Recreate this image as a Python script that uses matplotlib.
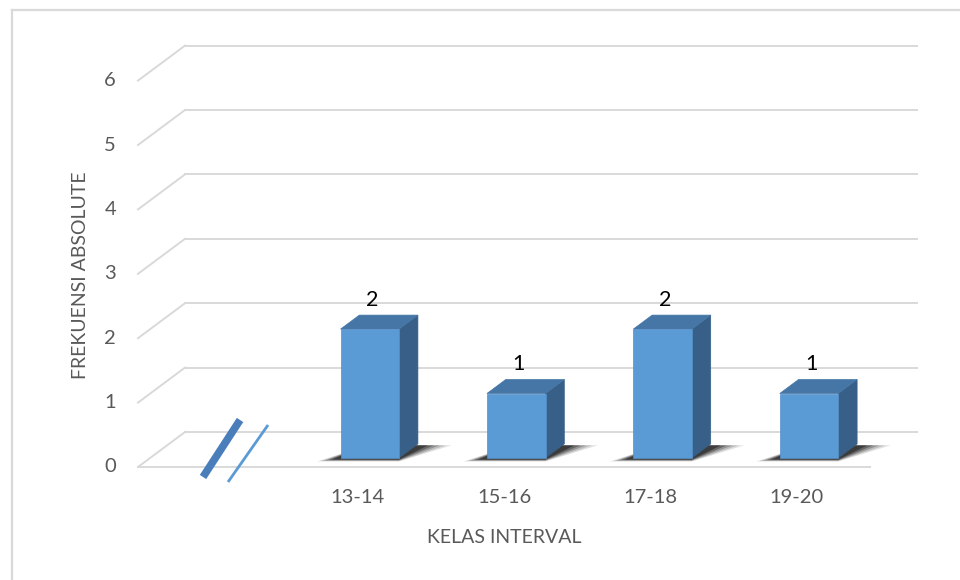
import matplotlib
matplotlib.use("Agg")
import matplotlib.pyplot as plt
from matplotlib.patches import Polygon

plt.rcParams['font.family'] = ['Lato', 'DejaVu Sans']

# ---- data ----
categories = ["", "13-14", "15-16", "17-18", "19-20"]
values = [None, 2, 1, 2, 1]
y_ticks = [0, 1, 2, 3, 4, 5, 6]
y_title = "FREKUENSI ABSOLUTE"
x_title = "KELAS INTERVAL"

# ---- style / geometry ----
W, H = 960, 580
px_cat = 146.4          # pixels per category
px_val = 64.4           # pixels per value unit
x0_px, y0_px = 138, 467  # front-left corner of floor (pixels)
DX, DY = 47 / px_cat, 35 / px_val   # full depth offset in data units
d_front, d_back = 0.26, 0.66        # bar depth range (fraction of full depth)
bar_w = 0.40

c_front = "#5B9BD5"
c_top = "#4676A6"
c_side = "#375F87"
grid_c = "#D9D9D9"
txt_c = "#595959"

fig = plt.figure(figsize=(W / 100, H / 100), dpi=100)
ax = fig.add_axes([0, 0, 1, 1])
ax.set_xlim((0 - x0_px) / px_cat - 0.5, (W - x0_px) / px_cat - 0.5)
ax.set_ylim((y0_px - H) / px_val, y0_px / px_val)
ax.axis("off")

n = len(categories)
xl, xr = -0.5, n - 0.5

# chart border (left and top)
fig.add_artist(plt.Line2D([11.5 / W, 11.5 / W], [0, 1 - 10 / H], color=grid_c, lw=1.6))
fig.add_artist(plt.Line2D([11.5 / W, 1], [1 - 10 / H, 1 - 10 / H], color=grid_c, lw=1.6))

# gridlines: back wall + left-side diagonals
for v in y_ticks:
    ax.plot([xl + DX, xr + DX], [v + DY, v + DY], color=grid_c, lw=1.4, zorder=1)
    ax.plot([xl, xl + DX], [v, v + DY], color=grid_c, lw=1.4, zorder=1)
    ax.text(xl - 0.19, v, str(v), ha="center", va="center", color=txt_c, fontsize=14.5)
# floor front edge
ax.plot([xl, xr], [0, 0], color=grid_c, lw=1.4, zorder=1)

# axis break marks on the empty first category
ax.plot([-0.056, 0.197], [-0.155, 0.73], color="#4A7EBB", lw=5.5,
        solid_capstyle="butt", zorder=3)
ax.plot([0.115, 0.388], [-0.233, 0.652], color="#5B9BD5", lw=2,
        solid_capstyle="butt", zorder=3)

# bars
for i, (cat, v) in enumerate(zip(categories, values)):
    if v is None:
        continue
    xa = i - bar_w / 2 + d_front * DX
    xb = i + bar_w / 2 + d_front * DX
    yb = d_front * DY
    ddx = (d_back - d_front) * DX
    ddy = (d_back - d_front) * DY
    # soft shadow on floor
    for k, a in enumerate([0.12, 0.16, 0.22, 0.30, 0.40]):
        g = 0.12 - k * 0.025
        sx = [xa - 0.16 + k * 0.025, xb + 0.0, xb + ddx + 0.23 - k * 0.04, xa + ddx + 0.05]
        sy = [yb - 0.02 - g * 0.3, yb - 0.02 - g * 0.3, yb + ddy * 0.9, yb + ddy * 0.9]
        ax.add_patch(Polygon(list(zip(sx, sy)), closed=True, color="black",
                             alpha=a, lw=0, zorder=2))
    # side face
    ax.add_patch(Polygon([(xb, yb), (xb + ddx, yb + ddy), (xb + ddx, v + yb + ddy), (xb, v + yb)],
                         closed=True, facecolor=c_side, edgecolor=c_side, lw=0.5, zorder=4))
    # top face
    ax.add_patch(Polygon([(xa, v + yb), (xb, v + yb), (xb + ddx, v + yb + ddy), (xa + ddx, v + yb + ddy)],
                         closed=True, facecolor=c_top, edgecolor=c_top, lw=0.5, zorder=4))
    # front face
    ax.add_patch(Polygon([(xa, yb), (xb, yb), (xb, v + yb), (xa, v + yb)],
                         closed=True, facecolor=c_front, edgecolor="#5590C8", lw=0.5, zorder=5))
    # data label
    ax.text(i + 0.1, v + 0.6, str(v), ha="center", va="center", color="black", fontsize=15.5, zorder=6)

# category labels
for i, cat in enumerate(categories):
    ax.text(i, -0.47, cat, ha="center", va="center", color=txt_c, fontsize=14.5)

# titles
ax.text((n - 1) / 2, -1.09, x_title, ha="center", va="center", color=txt_c, fontsize=14)
ax.text(xl - 0.396, 2.98, y_title, ha="center", va="center", rotation=90, color=txt_c, fontsize=14)

fig.savefig("out.png", dpi=100)
